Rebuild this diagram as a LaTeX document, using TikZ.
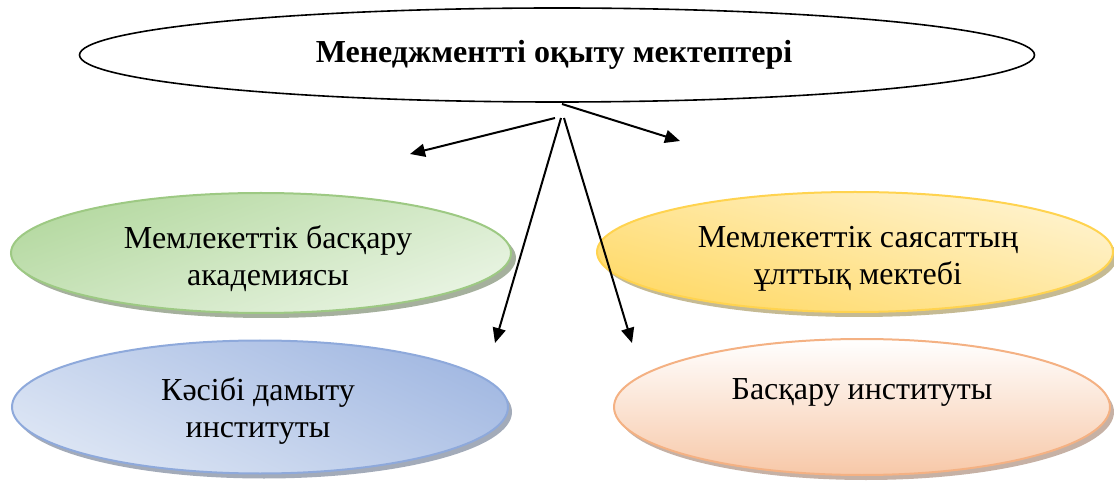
\documentclass[tikz,border=0pt]{standalone}
\usepackage{fontspec}
\setmainfont{Liberation Serif}
\usetikzlibrary{shapes.geometric,arrows.meta}
\definecolor{grnB}{HTML}{9DC983}
\definecolor{grnD}{HTML}{B5D9A1}
\definecolor{grnL}{HTML}{E9F4E3}
\definecolor{grnS}{HTML}{8E9C84}
\definecolor{ylwB}{HTML}{FFD34F}
\definecolor{ylwD}{HTML}{FFD966}
\definecolor{ylwL}{HTML}{FFF3CF}
\definecolor{ylwS}{HTML}{B7A978}
\definecolor{bluB}{HTML}{8EA9DB}
\definecolor{bluD}{HTML}{A3B9E2}
\definecolor{bluL}{HTML}{DCE5F4}
\definecolor{bluS}{HTML}{8C96A8}
\definecolor{orgB}{HTML}{F4B183}
\definecolor{orgD}{HTML}{F7C8A8}
\definecolor{orgL}{HTML}{FFFFFF}
\definecolor{orgS}{HTML}{B89E8E}
\tikzset{
  oval/.style={ellipse, inner sep=0pt, line width=2pt},
  shadowoval/.style={ellipse, inner sep=0pt, draw=none},
  lbl/.style={font=\fontsize{32}{37}\selectfont, align=center, inner sep=0pt},
  arr/.style={line width=2pt, -{Triangle[length=15pt,width=13pt]}}
}
\begin{document}
\begin{tikzpicture}[x=1pt,y=-1pt]
\useasboundingbox (0,0) rectangle (1114,486);
% top ellipse
\node[ellipse, draw=black, line width=1.6pt, fill=white, minimum width=955pt, minimum height=94pt, inner sep=0pt] (top) at (557,55) {};
\node[font=\bfseries\fontsize{32}{36}\selectfont, inner sep=0pt] (toptxt) at (554,55) {Менеджментті оқыту мектептері};
% shadows
\node[shadowoval, fill=grnS, opacity=0.8, minimum width=500pt, minimum height=120pt] (gs) at (266,258) {};
\node[shadowoval, fill=ylwS, opacity=0.8, minimum width=516pt, minimum height=120pt] (ys) at (859,257) {};
\node[shadowoval, fill=bluS, opacity=0.8, minimum width=496pt, minimum height=133pt] (bs) at (264,412) {};
\node[shadowoval, fill=orgS, opacity=0.8, minimum width=496pt, minimum height=136pt] (os) at (866,412) {};
% ellipses
\node[oval, draw=grnB, shading=axis, top color=grnD, bottom color=grnL, shading angle=20, minimum width=500pt, minimum height=120pt] (g) at (261,253) {};
\node[oval, draw=ylwB, shading=axis, top color=ylwL, bottom color=ylwD, shading angle=-15, minimum width=516pt, minimum height=120pt] (y) at (855,252) {};
\node[oval, draw=bluB, shading=axis, top color=bluD, bottom color=bluL, shading angle=-25, minimum width=496pt, minimum height=133pt] (b) at (260,407) {};
\node[oval, draw=orgB, shading=axis, top color=orgL, bottom color=orgD, minimum width=496pt, minimum height=136pt] (o) at (862,407) {};
% labels
\node[lbl] (gt) at (268,259) {Мемлекеттік басқару\\академиясы};
\node[lbl] (yt) at (858,259) {Мемлекеттік саясаттың\\ұлттық мектебі};
\node[lbl] (bt) at (258,411) {Кәсібі дамыту\\институты};
\node[lbl] (ot) at (862,392) {Басқару институты};
% arrows
\coordinate (s1) at (555,118);
\coordinate (s2) at (562,104);
\coordinate (s3) at (561,118);
\coordinate (s4) at (564,118);
\coordinate (e1) at (410,154);
\coordinate (e2) at (680,141);
\coordinate (e3) at (495,343);
\coordinate (e4) at (632,343);
\draw[arr] (s1) -- (e1);
\draw[arr] (s2) -- (e2);
\draw[arr] (s3) -- (e3);
\draw[arr] (s4) -- (e4);
\end{tikzpicture}
\end{document}
